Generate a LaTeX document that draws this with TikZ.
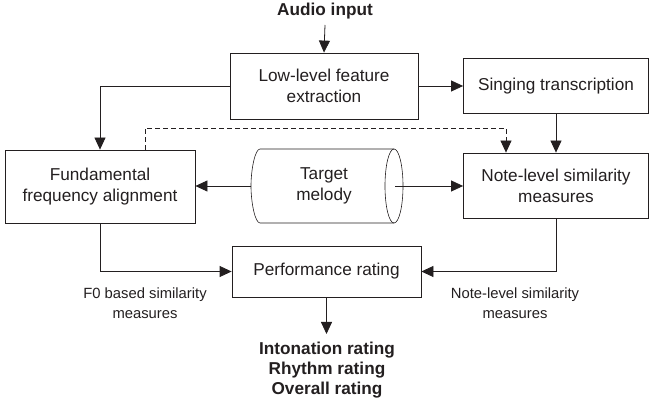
\documentclass[tikz,border=0pt]{standalone}
\usepackage{fontspec}
\setmainfont{Liberation Sans}
\usetikzlibrary{arrows.meta}
\definecolor{ink}{HTML}{231F20}
\begin{document}
\begin{tikzpicture}[x=1pt,y=-1pt,
  every node/.style={text=ink},
  box/.style={draw=ink, line width=0.8pt, rectangle, align=center, inner sep=2pt,
    font=\fontsize{17.2}{21}\selectfont},
  lbl/.style={align=center, font=\fontsize{14.8}{20}\selectfont},
  bold/.style={align=center, font=\fontsize{17.2}{20}\selectfont\bfseries},
  arr/.style={draw=ink, line width=0.8pt, -{Triangle[length=12pt,width=11pt]}},
  ln/.style={draw=ink, line width=0.6pt}]
\useasboundingbox (0,0) rectangle (649,406);
\node[bold] (audio) at (325,11) {Audio input};
\node[box, minimum width=188pt, minimum height=66pt] (low) at (324,86) {Low-level feature\\extraction};
\node[box, minimum width=185pt, minimum height=55pt] (sing) at (556,86) {Singing transcription};
\node[box, minimum width=190pt, minimum height=73pt] (fund) at (100,186.5) {Fundamental\\frequency alignment};
\node[box, minimum width=185pt, minimum height=65pt] (note) at (556,185.5) {Note-level similarity\\measures};
\node[box, minimum width=189pt, minimum height=51pt] (perf) at (326.5,271.5) {Performance rating};
% cylinder
\node[align=center, font=\fontsize{17.2}{21}\selectfont, minimum width=130pt, minimum height=70pt] (tm) at (324,186) {Target\\melody};
\coordinate (cylL) at (251,186);
\coordinate (cylC) at (395,186);
\draw[ln] (394,186) ellipse [x radius=9pt, y radius=37pt];
\draw[ln] (394,149) -- (260,149) .. controls (255.03,149) and (251,169.57) .. (251,186)
  .. controls (251,202.43) and (255.03,223) .. (260,223) -- (394,223);
% labels
\node[lbl] (f0lbl) at (145,303) {F0 based similarity\\measures};
\node[lbl] (nllbl) at (515,303) {Note-level similarity\\measures};
\node[bold] (res) at (327,370) {Intonation rating\\Rhythm rating\\Overall rating};
% connectors
\coordinate (atop) at (325,25);
\draw[arr] (atop) -- (low.north);
\draw[arr] (low.east) -- (low.east -| sing.west);
\draw[arr] (low.west) -| (fund.north);
\coordinate (d1) at (145,128);
\coordinate (d2) at (506,128);
\draw[arr, dash pattern=on 5pt off 3pt] (fund.north -| d1) -- (d1) -- (d2) -- (note.north -| d2);
\draw[arr] (sing.south) -- (note.north);
\draw[arr] (cylL) -- (cylL -| fund.east);
\draw[arr] (cylC) -- (cylC -| note.west);
\draw[arr] (fund.south) |- (perf.west);
\draw[arr] (note.south) |- (perf.east);
\coordinate (resTop) at (326.5,334);
\draw[arr] (perf.south) -- (resTop);
\end{tikzpicture}
\end{document}
